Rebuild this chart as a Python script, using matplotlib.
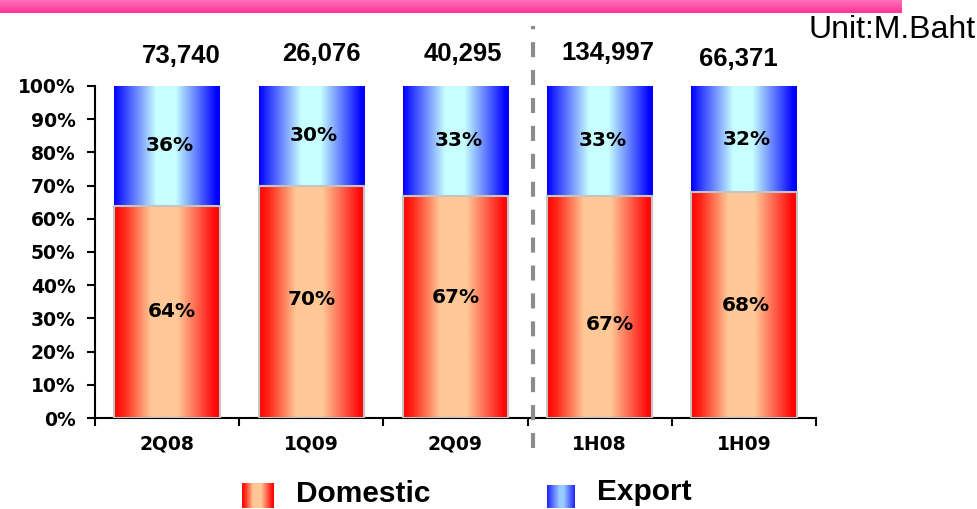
import numpy as np
import matplotlib
matplotlib.use('Agg')
import matplotlib.pyplot as plt
from matplotlib.colors import LinearSegmentedColormap

categories = ['2Q08', '1Q09', '2Q09', '1H08', '1H09']
domestic = [64, 70, 67, 67, 68]
export = [36, 30, 33, 33, 32]
totals = ['73,740', '26,076', '40,295', '134,997', '66,371']
yticks = [0, 10, 20, 30, 40, 50, 60, 70, 80, 90, 100]

# layout only (manual label placement in the original slide)
total_dx = [0.10, 0.07, 0.05, 0.055, -0.04]
total_y = [109.0, 109.6, 109.6, 109.9, 108.1]
dom_label_frac = [0.5, 0.51, 0.54, 0.42, 0.5]
dom_label_dx = [0.03, 0.0, 0.0, 0.07, 0.01]

FONT = 'DejaVu Sans'
ARIAL = 'Liberation Sans'
W, H = 978, 509
fig = plt.figure(figsize=(W / 100, H / 100), dpi=100)

def fx(px):
    return px / W

def fy(py):
    return 1 - py / H

ax = fig.add_axes([fx(95), fy(418), fx(816) - fx(95), fy(86) - fy(418)])

dom_cmap = LinearSegmentedColormap.from_list(
    'dom', [(0, '#ff0000'), (0.1, '#ff2a1a'), (0.35, '#ffc896'), (0.6, '#ffc896'),
            (0.95, '#ff0a0a'), (1, '#ff0000')])
exp_cmap = LinearSegmentedColormap.from_list(
    'exp', [(0, '#0000ff'), (0.4, '#c8ffff'), (0.58, '#c8ffff'), (0.97, '#0000ff'), (1, '#0000ff')])
grad = np.linspace(0, 1, 256).reshape(1, -1)

x = np.arange(len(categories))
width = 0.73

dom_bars = ax.bar(x, domestic, width=width, color='none', edgecolor='#c4c4c4',
                  linewidth=1.5, zorder=3)
exp_bars = ax.bar(x, export, width=width, bottom=domestic, color='none',
                  edgecolor='none', linewidth=0, zorder=3)

for bars, cmap in ((dom_bars, dom_cmap), (exp_bars, exp_cmap)):
    for p in bars:
        x0, y0 = p.get_x(), p.get_y()
        im = ax.imshow(grad, extent=[x0, x0 + p.get_width(), y0, y0 + p.get_height()],
                       aspect='auto', cmap=cmap, zorder=2, interpolation='bilinear')
        im.set_clip_path(p)

for i in range(len(categories)):
    ax.text(x[i] + dom_label_dx[i], domestic[i] * dom_label_frac[i], f'{domestic[i]}%',
            ha='center', va='center', fontsize=14.5, fontweight='bold', family=FONT, zorder=5)
    ax.text(x[i] + 0.02, domestic[i] + export[i] / 2, f'{export[i]}%', ha='center', va='center',
            fontsize=14.5, fontweight='bold', family=FONT, zorder=5)
    ax.text(x[i] + total_dx[i], total_y[i], totals[i], ha='center', va='center', fontsize=18.5,
            fontweight='bold', family=ARIAL, clip_on=False)

ax.set_xlim(-0.5, len(categories) - 0.5)
ax.set_ylim(0, 100)

# separator dashed line
ax.plot([2.54, 2.54], [-0.09, 1.18], transform=ax.get_xaxis_transform(),
        color='#8c8c8c', linewidth=3, dashes=(3.6, 3.1), clip_on=False, zorder=6)

ax.set_yticks(yticks)
ax.set_yticklabels([f'{v}%' for v in yticks], fontsize=13.5, fontweight='bold', family=FONT)
ax.set_xticks(x)
ax.set_xticklabels(categories, fontsize=13.5, fontweight='bold', family=FONT)
ax.set_xticks(np.arange(-0.5, len(categories), 1.0), minor=True)
ax.tick_params(axis='x', which='major', length=0, pad=12)
ax.tick_params(axis='x', which='minor', length=6, width=1.5, direction='out')
ax.tick_params(axis='y', length=6, width=1.5, direction='out', pad=8)

for s in ('top', 'right'):
    ax.spines[s].set_visible(False)
for s in ('left', 'bottom'):
    ax.spines[s].set_linewidth(1.5)

# pink header bar
hax = fig.add_axes([0, fy(13), fx(902), fy(0) - fy(13)])
pink = LinearSegmentedColormap.from_list('pink', ['#ff3296', '#ff72b8'])
hax.imshow(np.linspace(0, 1, 64).reshape(-1, 1)[::-1], aspect='auto', cmap=pink,
           extent=[0, 1, 0, 1], interpolation='bilinear')
hax.axis('off')

fig.text(fx(976), fy(30), 'Unit:M.Baht', ha='right', va='center', fontsize=23,
         family=ARIAL)

# legend
lax1 = fig.add_axes([fx(242), fy(508), fx(274) - fx(242), fy(483) - fy(508)])
lax1.imshow(grad, aspect='auto', cmap=dom_cmap, extent=[0, 1, 0, 1], interpolation='bilinear')
lax1.axis('off')
lax2 = fig.add_axes([fx(547), fy(508), fx(575) - fx(547), fy(485) - fy(508)])
lax2.imshow(grad, aspect='auto', cmap=LinearSegmentedColormap.from_list(
    'expl', [(0, '#2020ff'), (0.45, '#99ccff'), (0.6, '#99ccff'), (1, '#2020ff')]),
    extent=[0, 1, 0, 1], interpolation='bilinear')
lax2.axis('off')
fig.text(fx(296), fy(494), 'Domestic', ha='left', va='center', fontsize=21.5,
         fontweight='bold', family=ARIAL)
fig.text(fx(597), fy(492), 'Export', ha='left', va='center', fontsize=21.5,
         fontweight='bold', family=ARIAL)

fig.savefig('out.png', dpi=100)
